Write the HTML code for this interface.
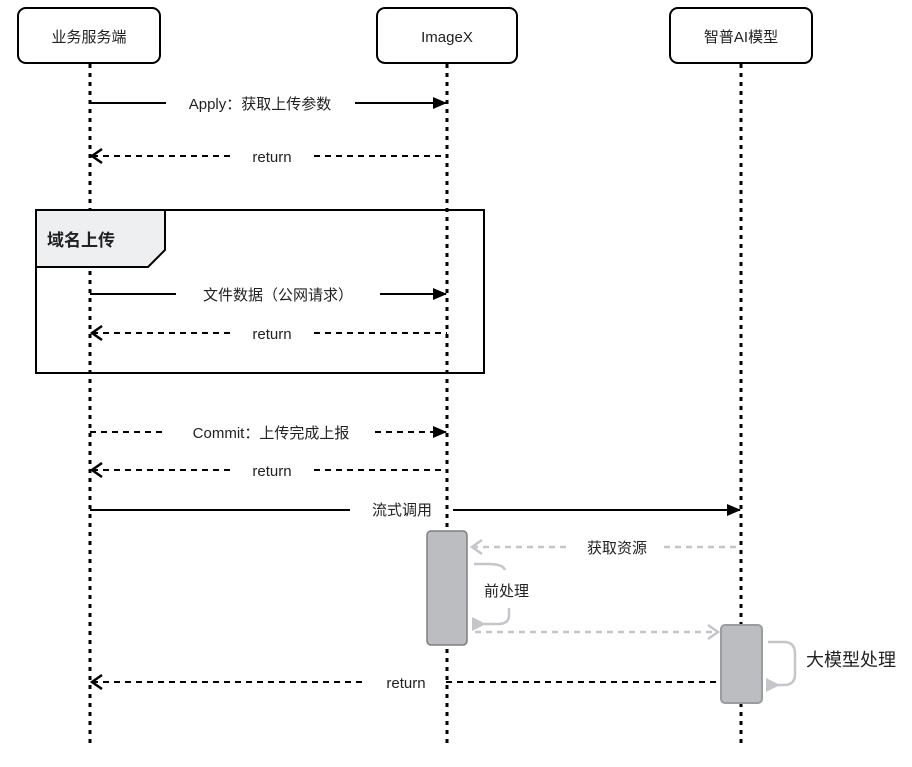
<!DOCTYPE html>
<html><head><meta charset="utf-8"><style>
html,body{margin:0;padding:0;background:#fff}
svg{display:block}
text{font-family:"Liberation Sans","Noto Sans CJK SC",sans-serif;font-size:15px;fill:#222}
</style></head><body>
<svg width="912" height="767" viewBox="0 0 912 767" xmlns="http://www.w3.org/2000/svg">
<defs>
<marker id="fa" markerWidth="14" markerHeight="12" refX="13" refY="6" orient="auto" markerUnits="userSpaceOnUse"><path d="M0,0 L14,6 L0,12 Z" fill="#000"/></marker>
<marker id="oa" markerWidth="14" markerHeight="16" refX="2" refY="8" orient="auto" markerUnits="userSpaceOnUse"><path d="M12,1 L2,8 L12,15" fill="none" stroke="#000" stroke-width="2.5"/></marker>
<marker id="og" markerWidth="14" markerHeight="16" refX="2" refY="8" orient="auto" markerUnits="userSpaceOnUse"><path d="M12,1 L2,8 L12,15" fill="none" stroke="#c4c6ca" stroke-width="2.5"/></marker>
<marker id="og2" markerWidth="14" markerHeight="16" refX="12" refY="8" orient="auto" markerUnits="userSpaceOnUse"><path d="M2,1 L12,8 L2,15" fill="none" stroke="#c4c6ca" stroke-width="2.5"/></marker>
<marker id="gf" markerWidth="14" markerHeight="14" refX="2" refY="7" orient="auto" markerUnits="userSpaceOnUse"><path d="M14,0 L0,7 L14,14 Z" fill="#c4c6ca"/></marker>
</defs>
<g stroke="#000" stroke-width="3" stroke-dasharray="4 5">
<line x1="90" y1="64" x2="90" y2="745"/>
<line x1="447" y1="64" x2="447" y2="745"/>
<line x1="741" y1="64" x2="741" y2="745"/>
</g>
<g fill="#fff" stroke="#000" stroke-width="2">
<rect x="18" y="8" width="142" height="55" rx="8"/>
<rect x="377" y="8" width="140" height="55" rx="8"/>
<rect x="670" y="8" width="142" height="55" rx="8"/>
</g>
<text x="89" y="42" text-anchor="middle">业务服务端</text>
<text x="447" y="42" text-anchor="middle">ImageX</text>
<text x="741" y="42" text-anchor="middle">智普AI模型</text>

<!-- frame -->
<rect x="36" y="210" width="448" height="163" fill="none" stroke="#000" stroke-width="2"/>
<path d="M36,210 H165 V250 L148,267 H36 Z" fill="#eeeff1" stroke="#000" stroke-width="2"/>
<text x="47" y="246" style="font-weight:bold;font-size:17px">域名上传</text>

<g stroke="#000" stroke-width="2" fill="none">
<line x1="90" y1="103" x2="166" y2="103"/><line x1="355" y1="103" x2="446" y2="103" marker-end="url(#fa)"/>
<line x1="92" y1="156" x2="230" y2="156" stroke-dasharray="6 5" marker-start="url(#oa)"/><line x1="314" y1="156" x2="447" y2="156" stroke-dasharray="6 5"/>
<line x1="90" y1="294" x2="176" y2="294"/><line x1="380" y1="294" x2="446" y2="294" marker-end="url(#fa)"/>
<line x1="92" y1="333" x2="230" y2="333" stroke-dasharray="6 5" marker-start="url(#oa)"/><line x1="314" y1="333" x2="447" y2="333" stroke-dasharray="6 5"/>
<line x1="90" y1="432" x2="166" y2="432" stroke-dasharray="6 5"/><line x1="375" y1="432" x2="446" y2="432" stroke-dasharray="6 5" marker-end="url(#fa)"/>
<line x1="92" y1="470" x2="230" y2="470" stroke-dasharray="6 5" marker-start="url(#oa)"/><line x1="314" y1="470" x2="447" y2="470" stroke-dasharray="6 5"/>
<line x1="90" y1="510" x2="350" y2="510"/><line x1="453" y1="510" x2="740" y2="510" marker-end="url(#fa)"/>
<line x1="92" y1="682" x2="366" y2="682" stroke-dasharray="6 5" marker-start="url(#oa)"/><line x1="446" y1="682" x2="716" y2="682" stroke-dasharray="6 5"/>
</g>
<text x="260" y="109" text-anchor="middle">Apply：获取上传参数</text>
<text x="272" y="162" text-anchor="middle">return</text>
<text x="278" y="300" text-anchor="middle">文件数据（公网请求）</text>
<text x="272" y="339" text-anchor="middle">return</text>
<text x="271" y="438" text-anchor="middle">Commit：上传完成上报</text>
<text x="272" y="476" text-anchor="middle">return</text>
<text x="402" y="515" text-anchor="middle">流式调用</text>
<text x="406" y="688" text-anchor="middle">return</text>

<!-- gray -->
<rect x="427" y="531" width="40" height="114" rx="4" fill="#bbbdc1" stroke="#7c7e82" stroke-width="1.5"/>
<rect x="721" y="625" width="41" height="78" rx="4" fill="#bbbdc1" stroke="#9a9c9f" stroke-width="2"/>
<g stroke="#c4c6ca" stroke-width="2.5" fill="none">
<line x1="472" y1="547" x2="566" y2="547" stroke-dasharray="6 5" marker-start="url(#og)"/><line x1="664" y1="547" x2="740" y2="547" stroke-dasharray="6 5"/>
<path d="M474,564 H488 Q503,564 505,570"/>
<path d="M509,608 V615 Q509,624 498,624 H484" marker-end="url(#gf)"/>
<line x1="475" y1="632" x2="718" y2="632" stroke-dasharray="6 5" marker-end="url(#og2)"/>
<path d="M768,642 H784 Q795,642 795,654 V674 Q795,685 784,685 H778" marker-end="url(#gf)"/>
</g>
<text x="617" y="553" text-anchor="middle">获取资源</text>
<text x="484" y="596">前处理</text>
<text x="806" y="666" style="font-size:18px">大模型处理</text>
</svg>
</body></html>
